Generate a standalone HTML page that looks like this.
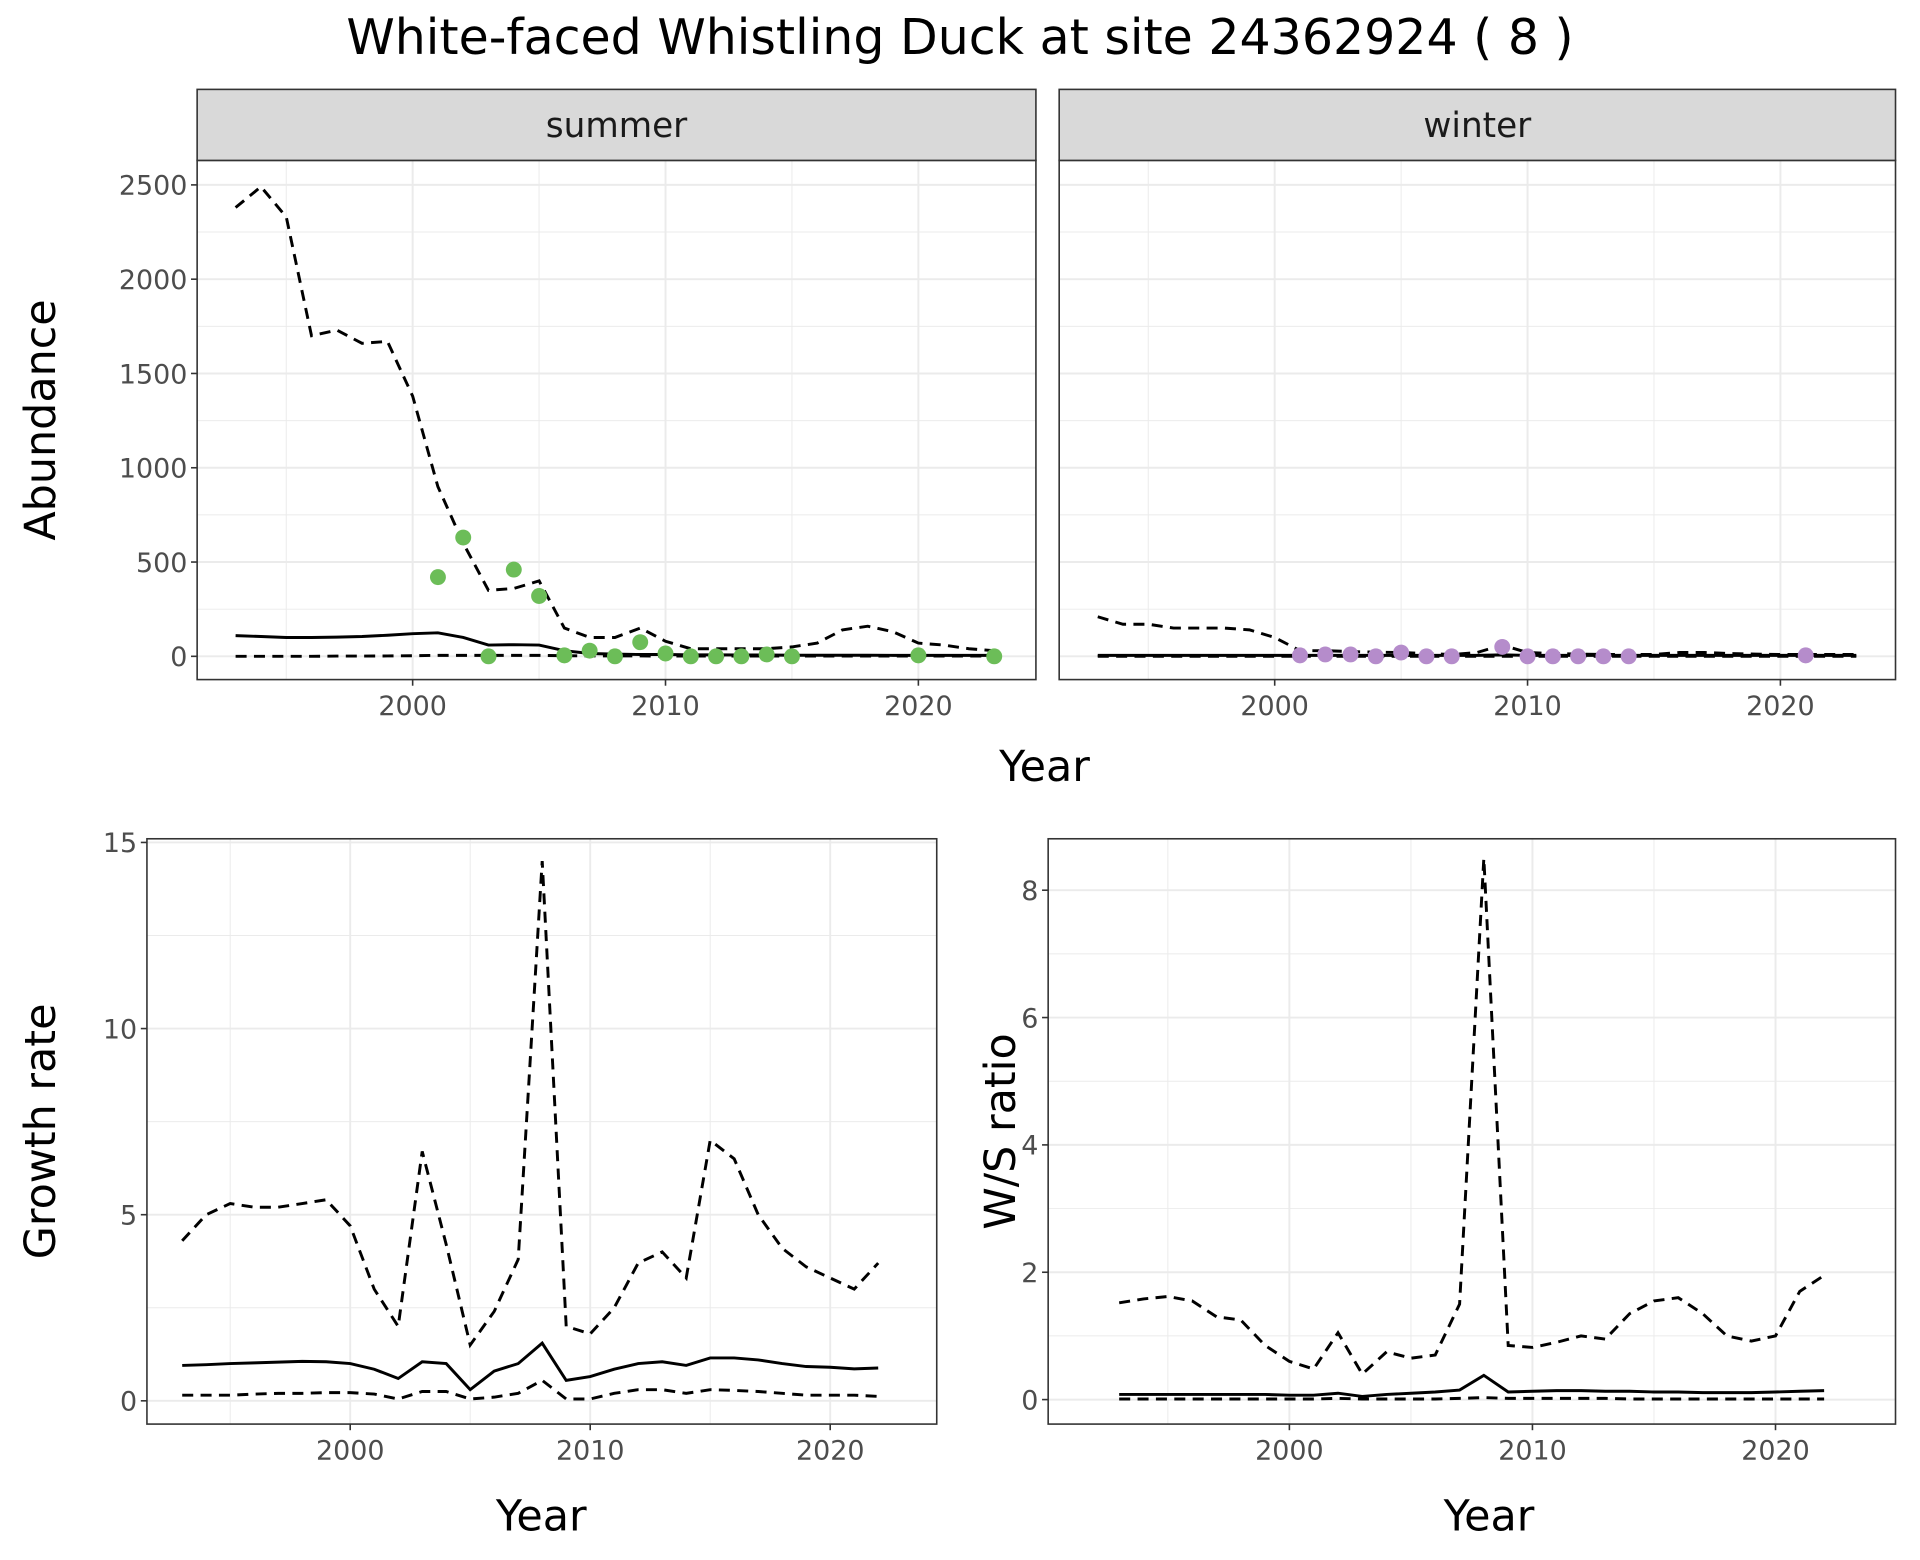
<!DOCTYPE html>
<html><head><meta charset="utf-8"><style>
html,body{margin:0;padding:0;background:#fff}
svg{display:block}
text{font-family:"DejaVu Sans","Liberation Sans",sans-serif}
</style></head><body>
<svg id="c" width="1920" height="1560" viewBox="0 0 1568 1274" xmlns="http://www.w3.org/2000/svg">
<text x="784" y="44" font-size="40" text-anchor="middle" fill="#000">White-faced Whistling Duck at site 24362924 ( 8 )</text>
</svg>
<script>
// ---- data ----
const yearsAll = [1993,1994,1995,1996,1997,1998,1999,2000,2001,2002,2003,2004,2005,2006,2007,2008,2009,2010,2011,2012,2013,2014,2015,2016,2017,2018,2019,2020,2021,2022,2023];
const summerUpper = [2380,2490,2330,1700,1730,1660,1670,1380,900,600,350,360,400,150,100,100,150,80,40,40,40,40,50,70,140,160,130,70,60,40,30];
const summerMid = [110,105,100,100,102,105,112,120,125,100,60,62,60,30,15,12,10,10,8,8,7,7,6,6,6,6,5,5,5,5,5];
const summerLower = [0,0,0,0,1,1,2,3,5,5,5,5,5,3,2,2,2,1,1,1,1,1,1,1,1,1,1,1,1,1,1];
const summerPtYears = [2001,2002,2003,2004,2005,2006,2007,2008,2009,2010,2011,2012,2013,2014,2015,2020,2023];
const summerPtVals = [420,630,0,460,320,5,30,0,75,15,0,0,0,10,0,5,0];
const winterUpper = [210,170,170,150,150,150,140,100,30,30,25,22,20,15,10,20,60,20,15,12,10,10,10,20,20,15,12,10,10,10,10];
const winterMid = [5,5,5,5,5,5,5,5,5,5,5,5,5,5,5,5,8,5,5,5,5,5,5,5,5,5,5,5,5,5,5];
const winterLower = [0,0,0,0,0,0,0,0,0,0,0,0,0,0,0,0,0,0,0,0,0,0,0,0,0,0,0,0,0,0,0];
const winterPtYears = [2001,2002,2003,2004,2005,2006,2007,2009,2010,2011,2012,2013,2014,2021];
const winterPtVals = [5,10,10,0,20,0,0,50,0,0,0,0,0,5];
const years2 = [1993,1994,1995,1996,1997,1998,1999,2000,2001,2002,2003,2004,2005,2006,2007,2008,2009,2010,2011,2012,2013,2014,2015,2016,2017,2018,2019,2020,2021,2022];
const growthUpper = [4.3,5.0,5.3,5.2,5.2,5.3,5.4,4.7,3.0,2.0,6.7,4.2,1.5,2.4,3.8,14.5,2.0,1.8,2.5,3.7,4.0,3.3,7.0,6.5,5.0,4.1,3.6,3.3,3.0,3.7];
const growthMid = [0.95,0.97,1.0,1.02,1.04,1.06,1.05,1.0,0.85,0.6,1.05,1.0,0.3,0.8,1.0,1.55,0.55,0.65,0.85,1.0,1.05,0.95,1.15,1.15,1.1,1.0,0.92,0.9,0.86,0.88];
const growthLower = [0.15,0.15,0.15,0.18,0.2,0.2,0.22,0.22,0.18,0.05,0.25,0.25,0.05,0.1,0.2,0.55,0.05,0.05,0.2,0.3,0.3,0.2,0.3,0.28,0.25,0.2,0.15,0.15,0.15,0.12];
const wsUpper = [1.52,1.58,1.62,1.55,1.3,1.25,0.85,0.6,0.48,1.05,0.4,0.75,0.65,0.7,1.5,8.5,0.85,0.82,0.9,1.0,0.95,1.35,1.55,1.6,1.35,1.0,0.92,1.0,1.7,1.95];
const wsMid = [0.08,0.08,0.08,0.08,0.08,0.08,0.08,0.07,0.07,0.1,0.05,0.08,0.1,0.12,0.15,0.38,0.12,0.13,0.14,0.14,0.13,0.13,0.12,0.12,0.11,0.11,0.11,0.12,0.13,0.14];
const wsLower = [0.01,0.01,0.01,0.01,0.01,0.01,0.01,0.01,0.01,0.02,0.01,0.01,0.01,0.01,0.02,0.03,0.02,0.02,0.02,0.02,0.02,0.01,0.01,0.01,0.01,0.01,0.01,0.01,0.01,0.01];
const abTicks = [0,500,1000,1500,2000,2500];
const grTicks = [0,5,10,15];
const wsTicks = [0,2,4,6,8];
const xTicks = [2000,2010,2020];

const svg = document.getElementById('c');
const NS = 'http://www.w3.org/2000/svg';
const TICK = 22;
function mk(tag, attrs, parent){ const e=document.createElementNS(NS,tag); for(const k in attrs) e.setAttribute(k,attrs[k]); (parent||svg).appendChild(e); return e; }
function lin(d0,d1,r0,r1){ return v=>r0+(v-d0)*(r1-r0)/(d1-d0); }

function panel(p){
  const g = mk('g',{});
  
  
  const x=p.x, y=p.y;
  for(let i=0;i<p.yMinor.length;i++){ mk('line',{x1:p.x0,x2:p.x1,y1:y(p.yMinor[i]),y2:y(p.yMinor[i]),stroke:'#ebebeb','stroke-width':0.8},g); }
  for(let i=0;i<p.xMinor.length;i++){ mk('line',{y1:p.y0,y2:p.y1,x1:x(p.xMinor[i]),x2:x(p.xMinor[i]),stroke:'#ebebeb','stroke-width':0.8},g); }
  p.yTicks.forEach(t=>{ mk('line',{x1:p.x0,x2:p.x1,y1:y(t),y2:y(t),stroke:'#ebebeb','stroke-width':1.6},g); });
  xTicks.forEach(t=>{ mk('line',{y1:p.y0,y2:p.y1,x1:x(t),x2:x(t),stroke:'#ebebeb','stroke-width':1.6},g); });
  p.series.forEach(s=>{
    const d = s.xs.map((yr,i)=>(i?'L':'M')+x(yr).toFixed(1)+','+y(s.vals[i]).toFixed(1)).join('');
    const path = mk('path',{d:d,fill:'none',stroke:'#000','stroke-width':2.4,'stroke-dasharray':s.dash?'9,6':'none'},g);
    
    
  });
  if(p.pts){ p.pts.xs.forEach((yr,i)=>{
    const c = mk('circle',{cx:x(yr),cy:y(p.pts.vals[i]),r:6.5,fill:p.pts.color},g);
    
    
  });}
  mk('rect',{x:p.x0,y:p.y0,width:p.x1-p.x0,height:p.y1-p.y0,fill:'none',stroke:'#333','stroke-width':1.3},g);
  if(p.showY){ p.yTicks.forEach(t=>{
    mk('line',{x1:p.x0-5,x2:p.x0,y1:y(t),y2:y(t),stroke:'#333','stroke-width':1.3},g);
    const tx=mk('text',{x:p.x0-8,y:y(t)+8,'font-size':TICK,'text-anchor':'end',fill:'#4d4d4d'},g); tx.textContent=t;
  });}
  xTicks.forEach(t=>{
    mk('line',{y1:p.y1,y2:p.y1+5,x1:x(t),x2:x(t),stroke:'#333','stroke-width':1.3},g);
    const tx=mk('text',{x:x(t),y:p.y1+29,'font-size':TICK,'text-anchor':'middle',fill:'#4d4d4d'},g); tx.textContent=t;
  });
  if(p.strip){
    const r=mk('rect',{x:p.x0,y:p.y0-58,width:p.x1-p.x0,height:58,fill:'#d9d9d9',stroke:'#333','stroke-width':1.3},g);
    
    
    const st=mk('text',{x:(p.x0+p.x1)/2,y:p.y0-19,'font-size':28,'text-anchor':'middle',fill:'#1a1a1a'},g); st.textContent=p.strip;
  }
}

const xsL = lin(2000,2020,337,750), xsR = lin(2000,2020,1041,1454), yAb = lin(0,2500,536,151);
panel({name:'summer-panel',strip:'summer',x0:161,x1:846,y0:131,y1:555,x:xsL,y:yAb,yTicks:abTicks,yMinor:[250,750,1250,1750,2250],xMinor:[1995,2005,2015],showY:true,
  series:[{name:'summer-upper',xs:yearsAll,vals:summerUpper,dash:true},{name:'summer-mid',xs:yearsAll,vals:summerMid},{name:'summer-lower',xs:yearsAll,vals:summerLower,dash:true}],
  pts:{xs:summerPtYears,vals:summerPtVals,color:'#6cbd58'}});
panel({name:'winter-panel',strip:'winter',x0:865,x1:1548,y0:131,y1:555,x:xsR,y:yAb,yTicks:abTicks,yMinor:[250,750,1250,1750,2250],xMinor:[1995,2005,2015],showY:false,
  series:[{name:'winter-upper',xs:yearsAll,vals:winterUpper,dash:true},{name:'winter-mid',xs:yearsAll,vals:winterMid},{name:'winter-lower',xs:yearsAll,vals:winterLower,dash:true}],
  pts:{xs:winterPtYears,vals:winterPtVals,color:'#b58ccb'}});
const xG = lin(2000,2020,286,678), yG = lin(0,15,1144,688);
panel({name:'growth-panel',x0:120,x1:765,y0:685,y1:1163,x:xG,y:yG,yTicks:grTicks,yMinor:[2.5,7.5,12.5],xMinor:[1995,2005,2015],showY:true,
  series:[{name:'growth-upper',xs:years2,vals:growthUpper,dash:true},{name:'growth-mid',xs:years2,vals:growthMid},{name:'growth-lower',xs:years2,vals:growthLower,dash:true}]});
const xW = lin(2000,2020,1053,1450), yW = lin(0,8,1143,727);
panel({name:'ws-panel',x0:856,x1:1548,y0:685,y1:1163,x:xW,y:yW,yTicks:wsTicks,yMinor:[1,3,5,7],xMinor:[1995,2005,2015],showY:true,
  series:[{name:'ws-upper',xs:years2,vals:wsUpper,dash:true},{name:'ws-mid',xs:years2,vals:wsMid},{name:'ws-lower',xs:years2,vals:wsLower,dash:true}]});

function label(txt,x,y,rot,name){
  const t=mk('text',{x:x,y:y,'font-size':35,'text-anchor':'middle',fill:'#000',transform:rot?`rotate(-90 ${x} ${y})`:''});
  t.textContent=txt;
  
  
}
label('Abundance',45,343,true,'abundance-axis-title');
label('Year',853,638,false,'top-x-axis-title');
label('Growth rate',45,924,true,'growth-axis-title');
label('Year',442,1250,false,'growth-x-axis-title');
label('W/S ratio',829,924,true,'ws-axis-title');
label('Year',1216,1250,false,'ws-x-axis-title');
</script>
</body></html>
